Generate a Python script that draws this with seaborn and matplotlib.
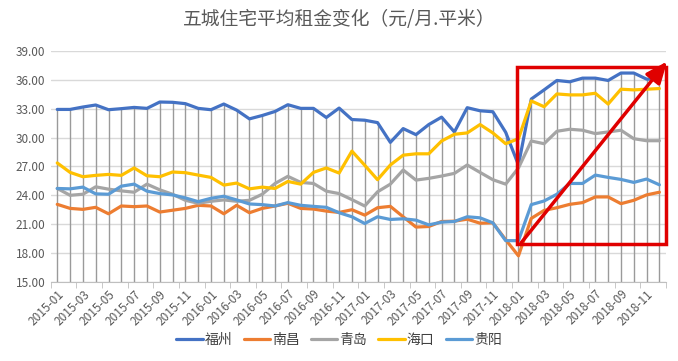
import numpy as np
import pandas as pd
import seaborn as sns
import matplotlib.pyplot as plt
from matplotlib.patches import Rectangle

# months 2015-01 .. 2018-12
months = [f'{y}-{m:02d}' for y in range(2015, 2019) for m in range(1, 13)]

fuzhou = [32.92, 32.92, 33.17, 33.38, 32.89, 33.00, 33.13, 33.03, 33.69, 33.66,
          33.52, 33.03, 32.89, 33.48, 32.85, 31.94, 32.29, 32.71, 33.41, 33.03,
          33.03, 32.08, 33.06, 31.87, 31.80, 31.55, 29.50, 30.93, 30.30, 31.35,
          32.12, 30.58, 33.10, 32.78, 32.68, 30.55, 27.15, 34.00, 34.95, 35.93,
          35.79, 36.17, 36.17, 35.93, 36.70, 36.70, 36.07, 36.07]
nanchang = [23.06, 22.64, 22.54, 22.75, 22.08, 22.89, 22.82, 22.89, 22.26, 22.45,
            22.64, 22.96, 22.89, 22.08, 22.96, 22.19, 22.64, 22.89, 23.17, 22.64,
            22.57, 22.36, 22.22, 22.50, 21.94, 22.71, 22.85, 21.77, 20.70, 20.76,
            21.28, 21.31, 21.52, 21.10, 21.14, 19.39, 17.71, 21.60, 22.43, 22.71,
            23.06, 23.24, 23.83, 23.83, 23.13, 23.48, 24.04, 24.32]
qingdao = [24.71, 24.00, 24.11, 24.88, 24.64, 24.46, 24.32, 25.16, 24.57, 24.11,
           23.48, 23.17, 23.38, 23.52, 23.38, 23.48, 24.11, 25.23, 25.97, 25.34,
           25.23, 24.43, 24.18, 23.55, 22.89, 24.36, 25.16, 26.63, 25.58, 25.76,
           26.00, 26.28, 27.15, 26.38, 25.62, 25.16, 26.84, 29.64, 29.36, 30.65,
           30.86, 30.76, 30.41, 30.58, 30.76, 29.88, 29.67, 29.67]
haikou = [27.36, 26.38, 25.93, 26.07, 26.17, 26.07, 26.84, 26.03, 25.93, 26.42,
          26.35, 26.10, 25.86, 25.06, 25.27, 24.67, 24.85, 24.71, 25.44, 25.16,
          26.38, 26.84, 26.31, 28.59, 27.12, 25.62, 27.15, 28.17, 28.31, 28.31,
          29.64, 30.34, 30.48, 31.35, 30.48, 29.36, 29.88, 33.80, 33.20, 34.53,
          34.43, 34.43, 34.60, 33.48, 35.02, 34.95, 35.02, 35.09]
guiyang = [24.71, 24.67, 24.85, 24.15, 24.11, 24.95, 25.16, 24.43, 24.18, 24.04,
           23.73, 23.34, 23.69, 23.90, 23.52, 23.10, 23.03, 22.89, 23.24, 22.96,
           22.85, 22.75, 22.19, 21.77, 21.07, 21.77, 21.49, 21.56, 21.42, 20.93,
           21.21, 21.28, 21.77, 21.66, 21.14, 19.29, 19.29, 23.03, 23.41, 24.11,
           25.23, 25.23, 26.10, 25.86, 25.65, 25.34, 25.69, 25.09]

cities = ['福州', '南昌', '青岛', '海口', '贵阳']
colors = ['#4472C4', '#ED7D31', '#A5A5A5', '#FFC000', '#5B9BD5']
series = [fuzhou, nanchang, qingdao, haikou, guiyang]

rows = []
for city, vals in zip(cities, series):
    for i, v in enumerate(vals):
        rows.append({'idx': i, 'month': months[i], 'city': city, 'rent': v})
df = pd.DataFrame(rows)

sns.set_style('white')
plt.rcParams['font.family'] = ['Noto Sans CJK SC', 'DejaVu Sans']

fig = plt.figure(figsize=(6.78, 3.61), dpi=100)
ax = fig.add_axes([0.075, 0.219, 0.907, 0.640])

# drop lines from the top series down to the axis
x = np.arange(len(months))
top = np.max(np.array(series), axis=0)
ax.vlines(x, 15, top, color='#9A9A9A', lw=1.0, zorder=1)

sns.lineplot(data=df, x='idx', y='rent', hue='city', hue_order=cities,
             palette=colors, linewidth=2.3, ax=ax, zorder=3, legend=False)

ax.set_xlim(-0.5, len(months) - 0.5)
ax.set_ylim(15, 39)
ax.set_yticks(np.arange(15, 40, 3))
ax.set_yticklabels([f'{v:.2f}' for v in np.arange(15, 40, 3)])
ax.yaxis.grid(True, color='#D9D9D9', lw=1)
ax.set_axisbelow(True)
for s in ['top', 'right', 'left']:
    ax.spines[s].set_visible(False)
ax.spines['bottom'].set_color('#BFBFBF')

ax.set_xticks(x[::2])
ax.set_xticklabels(months[::2], rotation=45, ha='right', rotation_mode='anchor')
ax.set_xticks(np.arange(-0.5, len(months), 2), minor=True)
ax.tick_params(axis='x', which='major', length=0, pad=4, labelsize=8.5,
               labelcolor='#595959')
ax.tick_params(axis='x', which='minor', length=4, color='#BFBFBF',
               direction='out', bottom=True)
ax.tick_params(axis='y', length=0, labelsize=8.5, labelcolor='#595959', pad=4)
ax.set_xlabel('')
ax.set_ylabel('')

fig.text(0.5, 0.945, '五城住宅平均租金变化（元/月.平米）', ha='center',
         va='center', fontsize=13.5, color='#595959')

# highlight box and arrow
ax.add_patch(Rectangle((35.9, 18.95), 11.65, 18.4, fill=False,
                       edgecolor='#E00000', lw=2.5, clip_on=False, zorder=5))
ax.annotate('', xy=(47.6, 37.9), xytext=(36.2, 19.05),
            arrowprops=dict(arrowstyle='-|>,head_length=1.3,head_width=0.55',
                            color='#E00000', lw=2.5, shrinkA=0, shrinkB=0),
            annotation_clip=False, zorder=6)

handles = [plt.Line2D([], [], color=c, lw=2.3) for c in colors]
fig.legend(handles, cities, loc='center', bbox_to_anchor=(0.5, 0.058),
           ncol=5, frameon=False, fontsize=10, handlelength=1.9,
           handletextpad=0.15, columnspacing=0.8, labelcolor='#404040')

fig.savefig('out.png', dpi=100, facecolor='white')
